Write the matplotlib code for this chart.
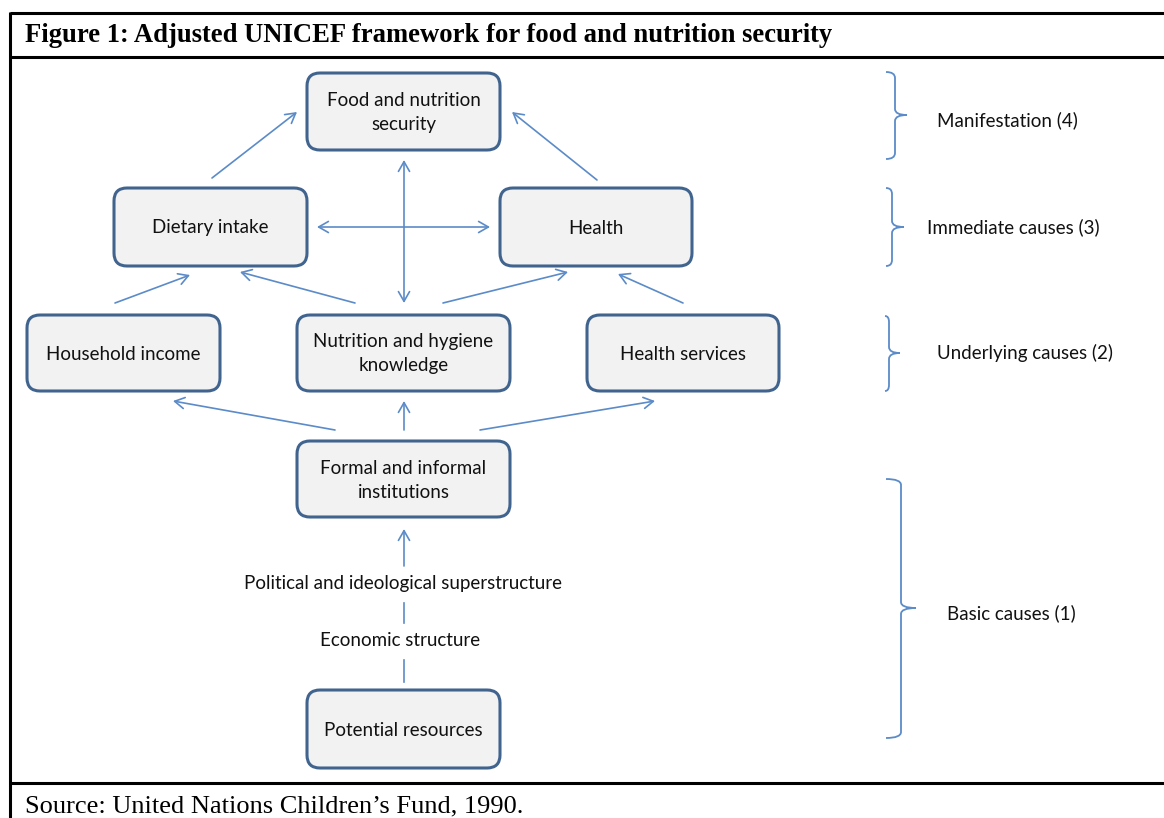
import matplotlib
matplotlib.use("Agg")
import matplotlib.pyplot as plt
from matplotlib.patches import FancyBboxPatch, FancyArrowPatch, PathPatch
from matplotlib.path import Path

# ---------------- data ----------------
title = "Figure 1: Adjusted UNICEF framework for food and nutrition security"
source = "Source: United Nations Children\u2019s Fund, 1990."
box_labels = ["Food and nutrition\nsecurity", "Dietary intake", "Health",
              "Household income", "Nutrition and hygiene\nknowledge", "Health services",
              "Formal and informal\ninstitutions", "Potential resources"]
level_labels = ["Manifestation (4)", "Immediate causes (3)",
                "Underlying causes (2)", "Basic causes (1)"]
mid_labels = ["Political and ideological superstructure", "Economic structure"]

# ---------------- layout ----------------
W, H = 1164, 818
box_rects = [(307, 73, 193, 77), (114, 188, 193, 78), (500, 188, 192, 78),
             (27, 315, 193, 76), (297, 315, 213, 76), (587, 315, 192, 76),
             (297, 441, 213, 76), (307, 690, 193, 78)]
arrows = [  # (start, end, style)
    ((212, 178), (297, 112), "->"),
    ((597, 180), (512, 112), "->"),
    ((404, 303), (404, 160), "<->"),
    ((317, 227), (490, 227), "<->"),
    ((115, 303), (190, 275), "->"),
    ((355, 303), (240, 272), "->"),
    ((443, 303), (568, 272), "->"),
    ((683, 303), (618, 274), "->"),
    ((335, 430), (173, 401), "->"),
    ((404, 430), (404, 401), "->"),
    ((480, 430), (655, 401), "->"),
    ((404, 566), (404, 529), "->"),
    ((404, 603), (404, 623), "-"),
    ((404, 660), (404, 682), "-"),
]
mid_pos = [(403, 583), (400, 641)]
braces = [  # x0, xv, xt, y0, ym, y1
    (886, 895, 907, 72, 115, 159),
    (886, 892, 904, 188, 227, 266),
    (885, 889, 900, 316, 353, 391),
    (886, 901, 916, 479, 608, 738),
]
level_pos = [(937, 120), (927, 227), (937, 353), (947, 613)]

box_edge = "#41648F"
box_face = "#F2F2F2"
line_col = "#5B8BC8"
diag_font = "Lato"
dfs = 13.5

fig = plt.figure(figsize=(W / 100, H / 100), dpi=100)
ax = fig.add_axes([0, 0, 1, 1])
ax.set_xlim(0, W)
ax.set_ylim(H, 0)
ax.axis("off")

# frame
fk = dict(color="black", lw=2.2, solid_capstyle="butt")
ax.plot([10, W], [13, 13], **fk)
ax.plot([10, W], [57, 57], **fk)
ax.plot([10, W], [783, 783], **fk)
ax.plot([10, 10], [12, H], **fk)

ax.text(25, 36, title, fontsize=19.2, fontweight="bold", family="Liberation Serif",
        va="center", ha="left")
ax.text(25, 806, source, fontsize=19, family="Liberation Serif", va="center", ha="left")

# arrows
for (s, e, st) in arrows:
    if st == "-":
        ax.plot([s[0], e[0]], [s[1], e[1]], color=line_col, lw=1.2)
    else:
        a = FancyArrowPatch(s, e, arrowstyle=st + ",head_length=7,head_width=4",
                            color=line_col, lw=1.2, shrinkA=0, shrinkB=0)
        ax.add_patch(a)

# boxes
for lab, (x, y, w, h) in zip(box_labels, box_rects):
    p = FancyBboxPatch((x, y), w, h, boxstyle="round,pad=0,rounding_size=13",
                       fc=box_face, ec=box_edge, lw=2.2)
    ax.add_patch(p)
    ax.text(x + w / 2, y + h / 2 + 1, lab, ha="center", va="center", fontsize=dfs,
            family=diag_font, linespacing=1.5, color="#111111")

for lab, (x, y) in zip(mid_labels, mid_pos):
    ax.text(x, y, lab, ha="center", va="center", fontsize=dfs, family=diag_font,
            color="#111111")

# braces
for (x0, xv, xt, y0, ym, y1) in braces:
    r = 6
    codes = [Path.MOVETO, Path.CURVE3, Path.CURVE3, Path.LINETO, Path.CURVE3, Path.CURVE3,
             Path.MOVETO, Path.CURVE3, Path.CURVE3, Path.LINETO, Path.CURVE3, Path.CURVE3]
    verts = [(x0, y0), (xv, y0), (xv, y0 + r), (xv, ym - r), (xv, ym), (xt, ym),
             (xt, ym), (xv, ym), (xv, ym + r), (xv, y1 - r), (xv, y1), (x0, y1)]
    ax.add_patch(PathPatch(Path(verts, codes), fc="none", ec=line_col, lw=1.3))

for lab, (x, y) in zip(level_labels, level_pos):
    ax.text(x, y, lab, ha="left", va="center", fontsize=dfs, family=diag_font,
            color="#111111")

fig.savefig("out.png", dpi=100)
